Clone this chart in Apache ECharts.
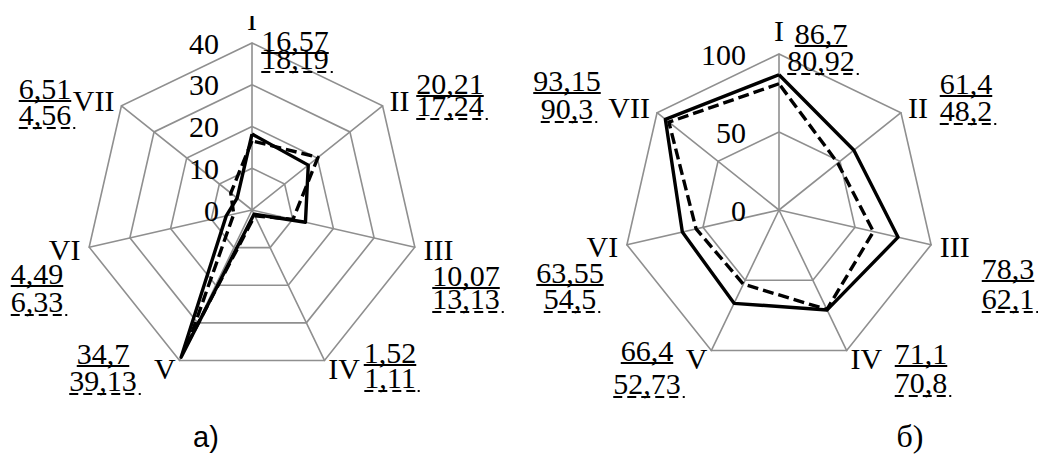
<!DOCTYPE html>
<html><head><meta charset="utf-8">
<script src="https://cdn.jsdelivr.net/npm/echarts@6/dist/echarts.min.js"></script>
<style>html,body{margin:0;padding:0;background:#fff}#c{width:1038px;height:455px}</style>
</head><body><div id="c"></div><script>
// ---- data ----
const axes = ['I','II','III','IV','V','VI','VII'];
// chart а): upper numbers (dashed line), lower numbers (solid line)
const aUpper = [16.57, 20.21, 10.07, 1.52, 34.7, 4.49, 6.51];
const aLower = [18.19, 17.24, 13.13, 1.11, 39.13, 6.33, 4.56];
const aTicks = [0, 10, 20, 30, 40];
// chart б): upper numbers (solid line), lower numbers (dashed line)
const bUpper = [86.7, 61.4, 78.3, 71.1, 66.4, 63.55, 93.15];
const bLower = [80.92, 48.2, 62.1, 70.8, 52.73, 54.5, 90.3];
const bTicks = [0, 50, 100];
const captions = ['а)', 'б)'];

// ---- layout ----
const SERIF = "'Liberation Serif', 'Times New Roman', serif";
const SANS = "'Liberation Sans', Arial, sans-serif";
const GRAY = '#8f8f8f';
const FS = 30;
// fraction label positions: [centerX, upperBaseline, lowerBaseline]
const aFracPos = [[295,50,68],[450,93,115],[466,285,308],[390,362,387],[103,363,390],[37,283,311],[45,98,124]];
const bFracPos = [[821,43,70],[966,93,120],[1008,278,308],[921,363,392],[647,360,393],[570,282,308],[567,90,118]];

// radar in ECharts goes counter-clockwise; reorder so I..VII run clockwise
const order = [0,6,5,4,3,2,1];
const reorder = arr => order.map(i => arr[i]);
const fmt = v => String(v).replace('.', ',');

const tickLabelStyle = { color: '#000', fontSize: FS, fontFamily: SERIF, margin: 33 };

function radarCfg(center, radius, ticks) {
  return {
    center: center, radius: radius, shape: 'polygon', startAngle: 90,
    splitNumber: ticks.length - 1,
    indicator: reorder(axes).map((n, i) => ({
      name: n, min: ticks[0], max: ticks[ticks.length - 1],
      axisLabel: Object.assign({ show: i === 0 }, tickLabelStyle)
    })),
    axisName: { color: '#000', fontSize: FS, fontFamily: SERIF },
    nameGap: 9,
    axisLine: { lineStyle: { color: GRAY, width: 1.6 } },
    splitLine: { lineStyle: { color: GRAY, width: 1.6 } },
    splitArea: { show: false },
    axisTick: { show: false },
    axisLabel: Object.assign({ show: false }, tickLabelStyle)
  };
}

const ctx = document.createElement('canvas').getContext('2d');
ctx.font = FS + 'px ' + SERIF;
function txt(text, x, y, size, family) {
  return { type: 'text', z: 10, style: { text: text, x: x, y: y, textAlign: 'center', textVerticalAlign: 'middle', fontSize: size, fontFamily: family, fill: '#000' } };
}
function fracGraphics(upper, lower, pos) {
  const g = [];
  upper.forEach((u, i) => {
    const [cx, yu, yl] = pos[i];
    const tu = fmt(u), tl = fmt(lower[i]);
    const wu = ctx.measureText(tu).width, wl = ctx.measureText(tl).width;
    g.push(txt(tu, cx, yu - 10, FS, SERIF));
    g.push({ type: 'line', z: 10, shape: { x1: cx - wu / 2, y1: yu + 3, x2: cx + wu / 2, y2: yu + 3 }, style: { stroke: '#000', lineWidth: 2 } });
    g.push(txt(tl, cx, yl - 10, FS, SERIF));
    g.push({ type: 'line', z: 10, shape: { x1: cx - wl / 2, y1: yl + 4, x2: cx + wl / 2, y2: yl + 4 }, style: { stroke: '#000', lineWidth: 2, lineDash: [9, 5] } });
    g.push({ type: 'rect', z: 10, shape: { x: cx + wl / 2 + 2, y: yl + 3, width: 2, height: 2 }, style: { fill: '#000' } });
  });
  return g;
}

const chart = echarts.init(document.getElementById('c'), null, { renderer: 'svg' });
chart.setOption({
  backgroundColor: '#fff',
  animation: false,
  radar: [radarCfg([252, 210], 167, aTicks), radarCfg([779, 210], 156, bTicks)],
  series: [
    { type: 'radar', radarIndex: 0, symbol: 'none', silent: true, z: 3,
      data: [
        { value: reorder(aUpper), lineStyle: { color: '#000', width: 3.4, type: [11, 5] } },
        { value: reorder(aLower), lineStyle: { color: '#000', width: 3.4, type: 'solid' } }
      ] },
    { type: 'radar', radarIndex: 1, symbol: 'none', silent: true, z: 3,
      data: [
        { value: reorder(bLower), lineStyle: { color: '#000', width: 3.4, type: [11, 5] } },
        { value: reorder(bUpper), lineStyle: { color: '#000', width: 3.4, type: 'solid' } }
      ] }
  ],
  graphic: [
    { type: 'rect', z: 20, shape: { x: 236, y: 0, width: 26, height: 16 }, style: { fill: '#fff' } },
    ...fracGraphics(aUpper, aLower, aFracPos),
    ...fracGraphics(bUpper, bLower, bFracPos),
    txt(captions[0], 206, 437, 29, SANS),
    txt(captions[1], 910, 436, 32, SERIF)
  ]
});
</script></body></html>
